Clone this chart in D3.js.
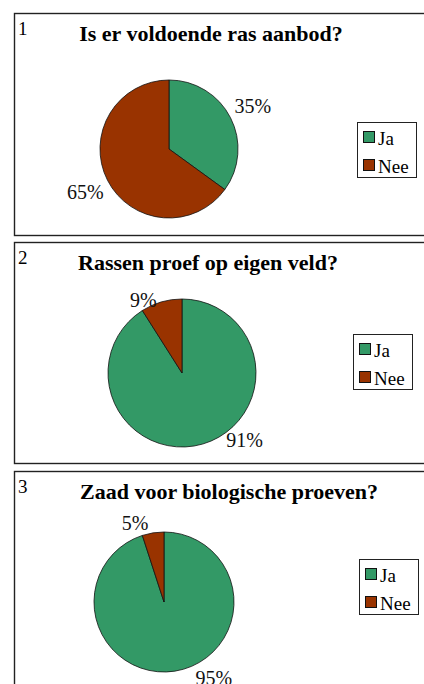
<!DOCTYPE html>
<html>
<head>
<meta charset="utf-8">
<script src="https://cdn.jsdelivr.net/npm/d3@7"></script>
<style>
  body { margin: 0; background: #fff; }
  svg { display: block; font-family: "Liberation Serif", "Times New Roman", serif; }
</style>
</head>
<body>
<svg id="chart" width="424" height="684"></svg>
<script>
var categories = ['Ja', 'Nee'];
var titles = ['Is er voldoende ras aanbod?', 'Rassen proef op eigen veld?', 'Zaad voor biologische proeven?'];
var numbers = ['1', '2', '3'];
var ja_values = [35, 91, 95];
var nee_values = [65, 9, 5];

var colors = d3.scaleOrdinal().domain(categories).range(['#339966', '#993300']);

// panel layout; nudge moves each % label off its radial spot
var panels = [
    { top: 13, height: 222, cx: 169, cy: 149, r: 69, titleX: 211, legX: 357, legY: 122,
      nudge: [[0, 0], [0, 0]] },
    { top: 242, height: 221, cx: 182, cy: 373, r: 74, titleX: 208, legX: 353, legY: 334,
      nudge: [[35, -28], [-11, 22]] },
    { top: 471, height: 230, cx: 164, cy: 602, r: 70, titleX: 229, legX: 359, legY: 559,
      nudge: [[35, -18], [-14, 15]] }
];

var svg = d3.select('#chart');

var pie = d3.pie().sort(null).value(function(d) { return d.value; });

panels.forEach(function(p, k) {

    var data = categories.map(function(c, i) {
        return { name: c, value: i === 0 ? ja_values[k] : nee_values[k] };
    });

    var g = svg.append('g');

    g.append('rect')
        .attr('x', 14.5)
        .attr('y', p.top + 0.5)
        .attr('width', 440)
        .attr('height', p.height)
        .attr('fill', 'none')
        .attr('stroke', '#222')
        .attr('stroke-width', 1.4);

    g.append('text')
        .attr('x', 18)
        .attr('y', p.top + 22)
        .attr('font-size', 19)
        .text(numbers[k]);

    g.append('text')
        .attr('x', p.titleX)
        .attr('y', p.top + 28)
        .attr('text-anchor', 'middle')
        .attr('font-size', 22)
        .attr('font-weight', 'bold')
        .text(titles[k]);

    var arc = d3.arc().innerRadius(0).outerRadius(p.r);
    var labelArc = d3.arc().innerRadius(p.r + 25).outerRadius(p.r + 25);

    var slices = g.append('g')
        .attr('transform', 'translate(' + p.cx + ',' + p.cy + ')')
        .selectAll('g')
        .data(pie(data)).enter()
        .append('g');

    slices.append('path')
        .attr('d', arc)
        .attr('fill', function(d) { return colors(d.data.name); })
        .attr('stroke', '#111')
        .attr('stroke-width', 0.8);

    slices.append('text')
        .attr('transform', function(d, i) {
            var c = labelArc.centroid(d);
            return 'translate(' + (c[0] + p.nudge[i][0]) + ',' + (c[1] + p.nudge[i][1]) + ')';
        })
        .attr('text-anchor', 'middle')
        .attr('dy', '0.35em')
        .attr('font-size', 20)
        .attr('fill', '#111')
        .text(function(d) { return d.data.value + '%'; });

    var leg = g.append('g')
        .attr('transform', 'translate(' + p.legX + ',' + p.legY + ')');

    leg.append('rect')
        .attr('x', 0.5).attr('y', 0.5)
        .attr('width', 59).attr('height', 55)
        .attr('fill', '#fff')
        .attr('stroke', '#222')
        .attr('stroke-width', 1);

    var entry = leg.selectAll('g.entry')
        .data(categories).enter()
        .append('g').attr('class', 'entry')
        .attr('transform', function(d, i) { return 'translate(0,' + (i * 28) + ')'; });

    entry.append('rect')
        .attr('x', 6.5).attr('y', 9.5)
        .attr('width', 11).attr('height', 11)
        .attr('fill', function(d) { return colors(d); })
        .attr('stroke', '#111')
        .attr('stroke-width', 1);

    entry.append('text')
        .attr('x', 21)
        .attr('y', 23)
        .attr('font-size', 19)
        .text(function(d) { return d; });
});
</script>
</body>
</html>
